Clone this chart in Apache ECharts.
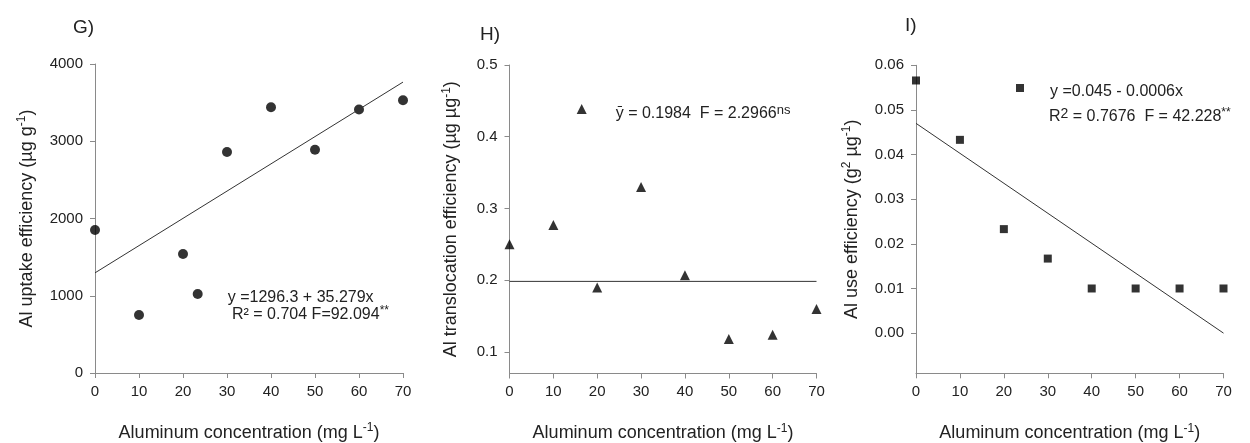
<!DOCTYPE html>
<html><head><meta charset="utf-8">
<script src="https://cdn.jsdelivr.net/npm/echarts@6/dist/echarts.min.js"></script>
<style>html,body{margin:0;padding:0;background:#fff}#c{width:1250px;height:443px}</style>
</head><body><div id="c"></div>
<script>
// ---- data ----
const concentrations = [0, 10, 20, 30, 40, 50, 60, 70];
const xTicks = [0, 10, 20, 30, 40, 50, 60, 70];

const uptakeEfficiency = [1850, 750, 1540, 2860, 3440, 2890, 3410, 3530];   // G
const uptakeFit = [[0, 1296.3], [70, 3765.8]];                              // y = 1296.3 + 35.279x
const uptakeTicks = [0, 1000, 2000, 3000, 4000];

const translocationEfficiency = [0.25, 0.277, 0.19, 0.33, 0.207, 0.118, 0.124, 0.16]; // H
const translocationMean = [[0, 0.1984], [70, 0.1984]];
const translocationTicks = [0.1, 0.2, 0.3, 0.4, 0.5];

const useEfficiency = [0.0566, 0.0433, 0.0233, 0.0167, 0.010, 0.010, 0.010, 0.010]; // I
const useFit = [[0, 0.047], [70, 0.0]];
const useTicks = [0, 0.01, 0.02, 0.03, 0.04, 0.05, 0.06];

const panelTitles = ['G)', 'H)', 'I)'];
const eqG1 = 'y =1296.3 + 35.279x';
const eqH1 = 'ȳ = 0.1984  F = 2.2966';
const eqI1 = 'y =0.045 - 0.0006x';

// ---- styling ----
const FONT = '"Liberation Sans", Arial, sans-serif';
const TXT = '#222';
const AX = '#8a8a8a';
const FIT = '#333';

const nameRich = {
  n: { fontSize: 18, lineHeight: 22, fontFamily: FONT, color: TXT },
  s: { fontSize: 12, lineHeight: 12, verticalAlign: 'top', fontFamily: FONT, color: TXT }
};
const eqRich = {
  n: { fontSize: 16, lineHeight: 20, fontFamily: FONT, color: TXT },
  s: { fontSize: 12, lineHeight: 11, verticalAlign: 'top', fontFamily: FONT, color: TXT },
  ns: { fontSize: 13, lineHeight: 12, verticalAlign: 'top', fontFamily: FONT, color: TXT }
};
const xName = '{n|Aluminum concentration (mg L}{s|-1}{n|)}';

function pairs(xs, ys) { return xs.map((x, i) => [x, ys[i]]); }

function xAxisFor(gi) {
  return {
    type: 'value', gridIndex: gi, min: 0, max: 70, interval: 10,
    axisLine: { onZero: false, lineStyle: { color: AX, width: 1 } },
    axisTick: { length: 5, lineStyle: { color: AX } },
    axisLabel: { fontSize: 15, fontFamily: FONT, color: TXT, margin: 11,
                 customValues: xTicks },
    splitLine: { show: false },
    name: xName, nameLocation: 'middle', nameGap: 49,
    nameTextStyle: { rich: nameRich }
  };
}
function yAxisFor(gi, min, max, ticks, fmt, nm, gap) {
  return {
    type: 'value', gridIndex: gi, min: min, max: max,
    axisLine: { show: true, onZero: false, lineStyle: { color: AX, width: 1 } },
    axisTick: { show: true, length: 5, lineStyle: { color: AX }, customValues: ticks },
    axisLabel: { fontSize: 15, fontFamily: FONT, color: TXT, margin: 12,
                 customValues: ticks, formatter: fmt },
    splitLine: { show: false },
    name: nm, nameLocation: 'middle', nameGap: gap,
    nameTextStyle: { rich: nameRich }
  };
}

const chart = echarts.init(document.getElementById('c'), null, { renderer: 'canvas' });
chart.setOption({
  animation: false,
  backgroundColor: '#fff',
  textStyle: { fontFamily: FONT },
  title: [
    { text: panelTitles[0], left: 73, top: 18, padding: 0, textStyle: { fontSize: 19, fontWeight: 'normal', color: TXT, fontFamily: FONT } },
    { text: panelTitles[1], left: 480, top: 25, padding: 0, textStyle: { fontSize: 19, fontWeight: 'normal', color: TXT, fontFamily: FONT } },
    { text: panelTitles[2], left: 905, top: 16, padding: 0, textStyle: { fontSize: 19, fontWeight: 'normal', color: TXT, fontFamily: FONT } }
  ],
  grid: [
    { left: 95, top: 64, width: 308, height: 309, outerBoundsMode: 'none', containLabel: false },
    { left: 509.5, top: 65, width: 307, height: 308.5, outerBoundsMode: 'none', containLabel: false },
    { left: 916, top: 65.3, width: 307.5, height: 308, outerBoundsMode: 'none', containLabel: false }
  ],
  xAxis: [xAxisFor(0), xAxisFor(1), xAxisFor(2)],
  yAxis: [
    yAxisFor(0, 0, 4000, uptakeTicks, v => String(v),
      '{n|Al uptake efficiency (µg g}{s|-1}{n|)}', 57),
    yAxisFor(1, 0.07, 0.5, translocationTicks, v => String(+v.toFixed(1)),
      '{n|Al translocation efficiency (µg µg}{s|-1}{n|)}', 47),
    yAxisFor(2, -0.009, 0.06, useTicks, v => v.toFixed(2),
      '{n|Al use efficiency (g}{s|2}{n| µg}{s|-1}{n|)}', 53)
  ],
  legend: [
    { left: 192.7, top: 289, padding: 0, itemWidth: 10, itemHeight: 10, selectedMode: false,
      data: [{ name: eqG1, icon: 'circle' }],
      formatter: n => '{n|' + n + '}',
      textStyle: { padding: [8, 0, 0, 20], rich: eqRich } },
    { left: 576.7, top: 104, padding: 0, itemWidth: 10, itemHeight: 10, selectedMode: false,
      data: [{ name: eqH1, icon: 'triangle' }],
      formatter: n => '{n|' + n + '}{ns|ns}',
      textStyle: { padding: [10, 0, 0, 24], rich: eqRich } },
    { left: 1016, top: 84, padding: 0, itemWidth: 8, itemHeight: 8, selectedMode: false,
      data: [{ name: eqI1, icon: 'rect' }],
      formatter: n => '{n|' + n + '}',
      textStyle: { padding: [8, 0, 0, 21], rich: eqRich } }
  ],
  graphic: [
    { type: 'text', x: 232, y: 315,
      style: { text: '{n|R² = 0.704 F=92.094}{s|**}', rich: eqRich, verticalAlign: 'middle', fill: TXT } },
    { type: 'text', x: 1049, y: 117,
      style: { text: '{n|R}{s2|2}{n| = 0.7676  F = 42.228}{s|**}',
               rich: Object.assign({}, eqRich, { s2: { fontSize: 14, lineHeight: 12, verticalAlign: 'top', fontFamily: FONT, color: TXT } }),
               verticalAlign: 'middle', fill: TXT } }
  ],
  series: [
    { name: eqG1, type: 'scatter', xAxisIndex: 0, yAxisIndex: 0, symbol: 'circle', symbolSize: 10,
      itemStyle: { color: '#000' }, data: pairs(concentrations, uptakeEfficiency) },
    { name: 'fitG', type: 'line', xAxisIndex: 0, yAxisIndex: 0, showSymbol: false, symbol: 'none',
      lineStyle: { color: FIT, width: 1 }, data: uptakeFit, silent: true },
    { name: eqH1, type: 'scatter', xAxisIndex: 1, yAxisIndex: 1, symbol: 'triangle', symbolSize: 10,
      itemStyle: { color: '#000' }, data: pairs(concentrations, translocationEfficiency) },
    { name: 'meanH', type: 'line', xAxisIndex: 1, yAxisIndex: 1, showSymbol: false, symbol: 'none',
      lineStyle: { color: FIT, width: 1 }, data: translocationMean, silent: true },
    { name: eqI1, type: 'scatter', xAxisIndex: 2, yAxisIndex: 2, symbol: 'rect', symbolSize: 8,
      itemStyle: { color: '#000' }, data: pairs(concentrations, useEfficiency) },
    { name: 'fitI', type: 'line', xAxisIndex: 2, yAxisIndex: 2, showSymbol: false, symbol: 'none',
      lineStyle: { color: FIT, width: 1 }, data: useFit, silent: true }
  ]
});
</script>
</body></html>
